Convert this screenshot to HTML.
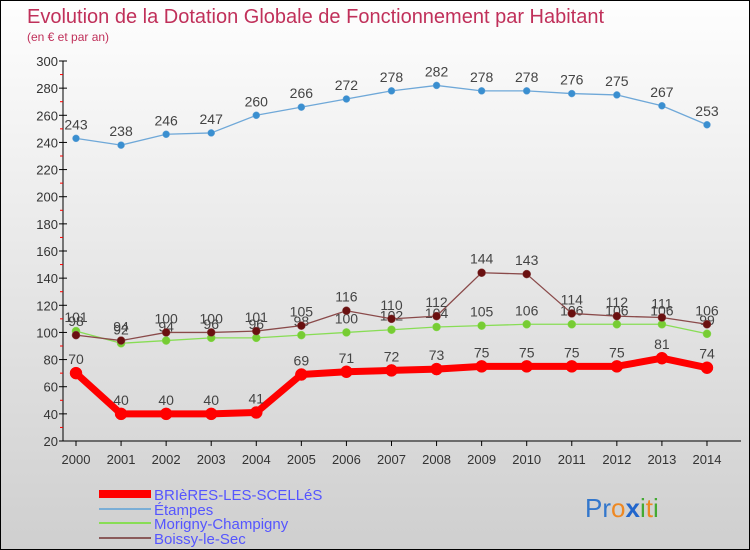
<!DOCTYPE html>
<html><head><meta charset="utf-8"><style>
body{margin:0}
#c{width:748px;height:548px;border:1px solid #000;position:relative;background:linear-gradient(#fefefe,#cfcfcf);font-family:"Liberation Sans","DejaVu Sans",sans-serif;overflow:hidden}
</style></head><body>
<div id="c">
<svg id="s" width="748" height="548">
<text x="26" y="22" font-size="20" fill="#c0305a">Evolution de la Dotation Globale de Fonctionnement par Habitant</text>
<text x="26" y="40" font-size="12" fill="#c0305a">(en € et par an)</text>
<g id="axes"></g><g id="series"></g>
<g>
<rect x="98" y="489" width="52" height="8" fill="#f00"/>
<text x="153" y="499" font-size="15" fill="#5555ff">BRIèRES-LES-SCELLéS</text>
<rect x="98" y="507" width="52" height="2" fill="#7aaed6"/>
<text x="153" y="514" font-size="15" fill="#5555ff">Étampes</text>
<rect x="98" y="521" width="52" height="2" fill="#88dd55"/>
<text x="153" y="528" font-size="15" fill="#5555ff">Morigny-Champigny</text>
<rect x="98" y="536" width="52" height="2" fill="#8a5a5a"/>
<text x="153" y="543" font-size="15" fill="#5555ff">Boissy-le-Sec</text>
</g>
<text x="584" y="516" font-size="26"><tspan fill="#3377cc">Pr</tspan><tspan fill="#ee8822">o</tspan><tspan fill="#2266cc" font-weight="bold">x</tspan><tspan fill="#44aa33">i</tspan><tspan fill="#ee8822">t</tspan><tspan fill="#44aa33">i</tspan></text>
</svg></div>
<script>
const years=[2000,2001,2002,2003,2004,2005,2006,2007,2008,2009,2010,2011,2012,2013,2014];
const brieres=[70,40,40,40,41,69,71,72,73,75,75,75,75,81,74];
const etampes=[243,238,246,247,260,266,272,278,282,278,278,276,275,267,253];
const morigny=[101,92,94,96,96,98,100,102,104,105,106,106,106,106,99];
const boissy=[98,94,100,100,101,105,116,110,112,144,143,114,112,111,106];
const yTicks=[20,40,60,80,100,120,140,160,180,200,220,240,260,280,300];
const NS="http://www.w3.org/2000/svg";
const xs=i=>75+i*45.07, ys=v=>60+(300-v)*380/280;
function mk(t,a,p){const e=document.createElementNS(NS,t);for(const k in a)e.setAttribute(k,a[k]);p.appendChild(e);return e;}
const ax=document.getElementById('axes'), sg=document.getElementById('series');
const yl=mk('line',{x1:62,y1:60,x2:62,y2:440,stroke:'#000'},ax);

const xl=mk('line',{x1:62,y1:440,x2:740,y2:440,stroke:'#000'},ax);

yTicks.forEach(v=>{const y=ys(v);
 mk('line',{x1:58,y1:y,x2:66,y2:y,stroke:'#000'},ax);
 if(v<300)mk('line',{x1:59,y1:ys(v+10),x2:62,y2:ys(v+10),stroke:'#f00'},ax);
 const t=mk('text',{x:57,y:y+5,'font-size':13,fill:'#333','text-anchor':'end'},ax);t.textContent=v;
 });
years.forEach((yr,i)=>{const x=xs(i);
 mk('line',{x1:x,y1:440,x2:x,y2:445,stroke:'#000'},ax);
 const t=mk('text',{x:x,y:463,'font-size':13,fill:'#333','text-anchor':'middle'},ax);t.textContent=yr;
 });
function draw(vals,name,col,dot,w,r){
 const g=mk('g',{},sg);
 const p=mk('polyline',{points:vals.map((v,i)=>xs(i)+','+ys(v)).join(' '),fill:'none',stroke:col,'stroke-width':w,'stroke-linejoin':'round'},g);
 
 vals.forEach((v,i)=>{const c=mk('circle',{cx:xs(i),cy:ys(v),r:r,fill:dot,stroke:col,'stroke-width':0.5},g);
  
  const t=mk('text',{x:xs(i),y:ys(v)-9,'font-size':14,fill:'#444','text-anchor':'middle'},g);t.textContent=v;
  });
}
draw(etampes,'etampes','#6fa8d8','#3a8fd0',1.3,3.5);
draw(morigny,'morigny','#88dd55','#77cc33',1.3,4);
draw(boissy,'boissy','#8a4a4a','#6a1010',1.3,4);
draw(brieres,'brieres','#f00','#f00',7,6);
</script></body></html>
